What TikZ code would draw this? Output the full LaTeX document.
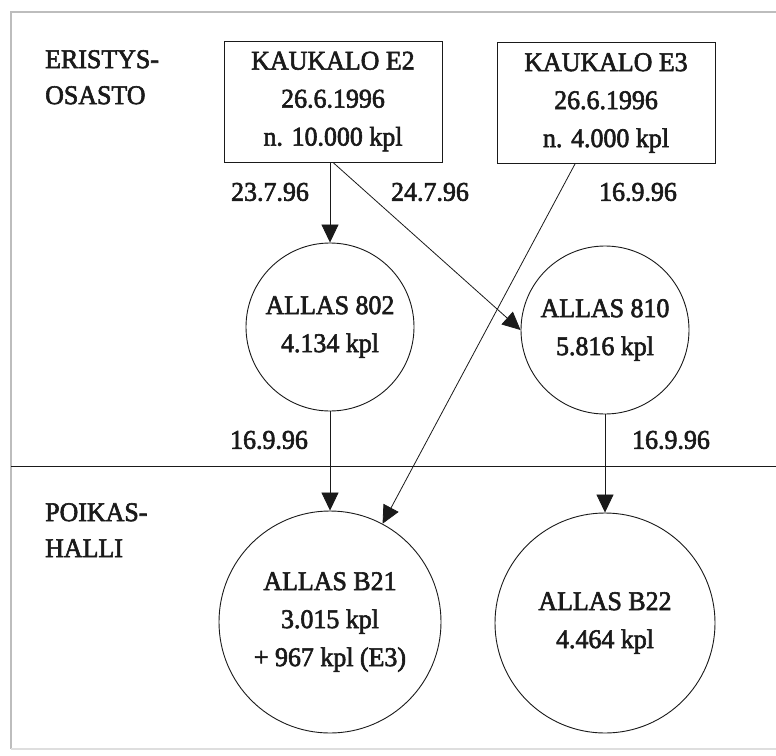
\documentclass[tikz,border=0pt]{standalone}
\usepackage{fontspec}
\setmainfont{Liberation Serif}[FakeBold=2.2, FakeStretch=0.96]
\usetikzlibrary{arrows.meta}
\definecolor{ink}{HTML}{1A1A1A}
\definecolor{framegray}{HTML}{BDBDBD}
\begin{document}
\begin{tikzpicture}[x=1pt,y=-1pt,
  every node/.style={text=ink},
  txt/.style={font=\fontsize{27}{38}\selectfont, align=center, inner sep=0pt},
  side/.style={font=\fontsize{27}{36}\selectfont, align=left, inner sep=0pt, anchor=north west},
  tank/.style={txt, draw=ink, line width=0.9pt, minimum width=218pt, minimum height=121pt},
  pool/.style={txt, draw=ink, circle, line width=0.9pt},
  flow/.style={draw=ink, line width=0.8pt, -{Triangle[length=18pt,width=17pt]}},
  date/.style={font=\fontsize{27}{32}\selectfont, inner sep=0pt},
  frame/.style={draw=framegray, line width=1.8pt}
]
\useasboundingbox (0,0) rectangle (776,755);
\fill[white] (0,0) rectangle (776,755);

% outer frame and the line between the two departments
\draw[frame] (776,12) -- (11,12) -- (11,749);
\draw[frame, draw=framegray!50] (11,749) -- (776,749);
\draw[draw=ink, line width=0.9pt] (11,466) -- (776,466);

% department names
\node[side] (eri) at (45,50) {ERISTYS-\\OSASTO};
\node[side] (poi) at (45,503) {POIKAS-\\HALLI};

% troughs
\node[tank] (E2) at (333,101.5) {KAUKALO E2\\26.6.1996\\n. 10.000 kpl};
\node[tank] (E3) at (606,103) {KAUKALO E3\\26.6.1996\\n. 4.000 kpl};

% pools
\node[pool, minimum size=168pt] (p802) at (330,327) {ALLAS 802\\4.134 kpl};
\node[pool, minimum size=168pt] (p810) at (605,330) {ALLAS 810\\5.816 kpl};
\node[pool, minimum size=222pt] (b21) at (330,622) {ALLAS B21\\3.015 kpl\\+ 967 kpl (E3)};
\node[pool, minimum size=220pt] (b22) at (605,623) {ALLAS B22\\4.464 kpl};

% transfers
\coordinate (e3foot) at ([xshift=-31pt]E3.south);
\draw[flow] (E2.south -| p802) -- (p802.north);
\draw[flow] (E2.south) -- (p810.west);
\draw[flow] (e3foot) -- (b21);
\draw[flow] (p802.south) -- (b21.north);
\draw[flow] (p810.south) -- (b22.north);

% transfer dates
\node[date] (d1) at (270,192) {23.7.96};
\node[date] (d2) at (430,192) {24.7.96};
\node[date] (d3) at (638,192) {16.9.96};
\node[date] (d4) at (269,440) {16.9.96};
\node[date] (d5) at (671,440) {16.9.96};
\end{tikzpicture}
\end{document}
